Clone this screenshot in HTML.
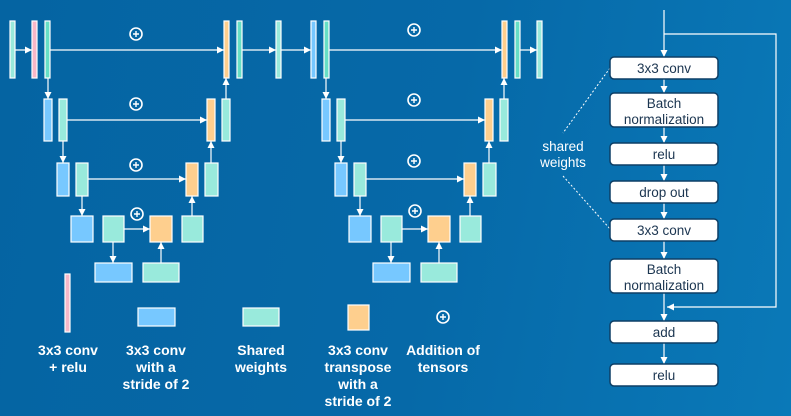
<!DOCTYPE html>
<html><head><meta charset="utf-8"><style>
html,body{margin:0;padding:0;width:791px;height:416px;overflow:hidden}
body{background:linear-gradient(100deg,#0564a2 0%,#0669a8 55%,#0a79b8 100%)}
svg{display:block}
.t{font-family:"Liberation Sans",Arial,sans-serif}
</style></head><body>
<svg width="791" height="416" viewBox="0 0 791 416" xmlns="http://www.w3.org/2000/svg">
<defs>
<marker id="a" viewBox="0 0 10 10" refX="10" refY="5" markerWidth="6" markerHeight="6" orient="auto"><path d="M0,0L10,5L0,10z" fill="#fff"/></marker>
<g id="lower">
 <rect x="44" y="99" width="8" height="42" fill="#77c8ff"/>
 <rect x="59" y="99" width="8" height="42" fill="#99eadc"/>
 <rect x="207" y="99" width="8" height="42" fill="#fecf8e"/>
 <rect x="222" y="99" width="8" height="42" fill="#99eadc"/>
 <line x1="67" y1="120" x2="207" y2="120" marker-end="url(#a)"/>
 <rect x="57" y="163" width="12" height="33" fill="#77c8ff"/>
 <rect x="76" y="163" width="12" height="33" fill="#99eadc"/>
 <rect x="186" y="163" width="12" height="33" fill="#fecf8e"/>
 <rect x="205" y="163" width="13" height="33" fill="#99eadc"/>
 <line x1="88" y1="179" x2="186" y2="179" marker-end="url(#a)"/>
 <line x1="63" y1="141" x2="63" y2="163" marker-end="url(#a)"/>
 <line x1="211" y1="163" x2="211" y2="141" marker-end="url(#a)"/>
 <rect x="71" y="216" width="22" height="26" fill="#77c8ff"/>
 <rect x="103" y="216" width="21" height="26" fill="#99eadc"/>
 <rect x="150" y="216" width="22" height="26" fill="#fecf8e"/>
 <rect x="182" y="216" width="21" height="26" fill="#99eadc"/>
 <line x1="124" y1="229" x2="150" y2="229" marker-end="url(#a)"/>
 <line x1="82" y1="196" x2="82" y2="216" marker-end="url(#a)"/>
 <line x1="192" y1="216" x2="192" y2="196" marker-end="url(#a)"/>
 <rect x="95" y="263" width="37" height="19" fill="#77c8ff"/>
 <rect x="143" y="263" width="36" height="19" fill="#99eadc"/>
 <line x1="113" y1="242" x2="113" y2="263" marker-end="url(#a)"/>
 <line x1="161" y1="263" x2="161" y2="242" marker-end="url(#a)"/>
 <line x1="48" y1="78" x2="48" y2="99" marker-end="url(#a)"/>
 <line x1="226" y1="99" x2="226" y2="78" marker-end="url(#a)"/>
</g>
<g id="plus"><circle r="6" fill="none" stroke="#fff" stroke-width="1.6"/><path d="M-3,0H3M0,-3V3" stroke="#fff" stroke-width="1.4"/></g>
</defs>
<g stroke="#fff" stroke-width="1.2">
<rect x="10" y="21" width="5" height="57" fill="#99eadc"/>
<rect x="32" y="21" width="5" height="57" fill="#f8b8c8"/>
<rect x="45" y="21" width="5" height="57" fill="#66dfc6"/>
<rect x="224" y="21" width="5" height="57" fill="#fecf8e"/>
<rect x="237" y="21" width="5" height="57" fill="#66dfc6"/>
<rect x="276" y="21" width="5" height="57" fill="#99eadc"/>
<line x1="15" y1="50" x2="32" y2="50" marker-end="url(#a)"/>
<line x1="50" y1="50" x2="224" y2="50" marker-end="url(#a)"/>
<line x1="242" y1="50" x2="276" y2="50" marker-end="url(#a)"/>
<line x1="281" y1="50" x2="311" y2="50" marker-end="url(#a)"/>
<use href="#lower"/>
<rect x="311" y="21" width="5" height="57" fill="#77c8ff"/>
<rect x="324" y="21" width="5" height="57" fill="#66dfc6"/>
<rect x="502" y="21" width="5" height="57" fill="#fecf8e"/>
<rect x="515" y="21" width="5" height="57" fill="#66dfc6"/>
<rect x="537" y="21" width="5" height="57" fill="#99eadc"/>
<line x1="329" y1="50" x2="502" y2="50" marker-end="url(#a)"/>
<line x1="520" y1="50" x2="537" y2="50" marker-end="url(#a)"/>
<g transform="translate(278,0)"><use href="#lower"/></g>
<rect x="65" y="274" width="5" height="58" fill="#f8b8c8"/>
<rect x="138" y="308" width="37" height="18" fill="#77c8ff"/>
<rect x="243" y="308" width="36" height="18" fill="#99eadc"/>
<rect x="348" y="305" width="21" height="25" fill="#fecf8e"/>
</g>
<g>
<use href="#plus" x="136" y="34"/><use href="#plus" x="136" y="104"/><use href="#plus" x="136" y="165"/><use href="#plus" x="137" y="214"/>
<use href="#plus" x="414" y="30"/><use href="#plus" x="414" y="100"/><use href="#plus" x="414" y="161"/><use href="#plus" x="415" y="211"/>
<use href="#plus" x="443" y="317"/>
</g>
<g class="t" fill="#fff" font-size="14" font-weight="bold" text-anchor="middle">
<text x="68" y="355">3x3 conv</text><text x="68" y="372">+ relu</text>
<text x="156" y="355">3x3 conv</text><text x="156" y="372">with a</text><text x="156" y="389">stride of 2</text>
<text x="261" y="355">Shared</text><text x="261" y="372">weights</text>
<text x="358" y="355">3x3 conv</text><text x="358" y="372">transpose</text><text x="358" y="389">with a</text><text x="358" y="406">stride of 2</text>
<text x="443" y="355">Addition of</text><text x="443" y="372">tensors</text>
</g>
<g stroke="#fff" stroke-width="1.2" fill="none">
<line x1="664" y1="10" x2="664" y2="57" marker-end="url(#a)"/>
<polyline points="664,34 776,34 776,307 667,307" marker-end="url(#a)"/>
<line x1="664" y1="79" x2="664" y2="93" marker-end="url(#a)"/>
<line x1="664" y1="127" x2="664" y2="143" marker-end="url(#a)"/>
<line x1="664" y1="165" x2="664" y2="181" marker-end="url(#a)"/>
<line x1="664" y1="203" x2="664" y2="219" marker-end="url(#a)"/>
<line x1="664" y1="241" x2="664" y2="259" marker-end="url(#a)"/>
<line x1="664" y1="293" x2="664" y2="321" marker-end="url(#a)"/>
<line x1="664" y1="343" x2="664" y2="364" marker-end="url(#a)"/>
<line x1="610" y1="68" x2="563" y2="133" stroke-dasharray="2,2" stroke-width="1"/>
<line x1="563" y1="176" x2="611" y2="230" stroke-dasharray="2,2" stroke-width="1"/>
</g>
<g fill="#fff" stroke="#0d3f66" stroke-width="1.5">
<rect x="610" y="57" width="108" height="22" rx="4"/>
<rect x="610" y="93" width="108" height="34" rx="4"/>
<rect x="610" y="143" width="108" height="22" rx="4"/>
<rect x="610" y="181" width="108" height="22" rx="4"/>
<rect x="610" y="219" width="108" height="22" rx="4"/>
<rect x="610" y="259" width="108" height="34" rx="4"/>
<rect x="610" y="321" width="108" height="22" rx="4"/>
<rect x="610" y="364" width="108" height="22" rx="4"/>
</g>
<g class="t" fill="#1b3550" font-size="13.5" text-anchor="middle">
<text x="664" y="73">3x3 conv</text>
<text x="664" y="108">Batch</text><text x="664" y="124">normalization</text>
<text x="664" y="159">relu</text>
<text x="664" y="197">drop out</text>
<text x="664" y="235">3x3 conv</text>
<text x="664" y="274">Batch</text><text x="664" y="290">normalization</text>
<text x="664" y="337">add</text>
<text x="664" y="380">relu</text>
</g>
<g class="t" fill="#fff" font-size="13.5" text-anchor="middle">
<text x="563" y="151">shared</text><text x="563" y="167">weights</text>
</g>
</svg>
</body></html>
